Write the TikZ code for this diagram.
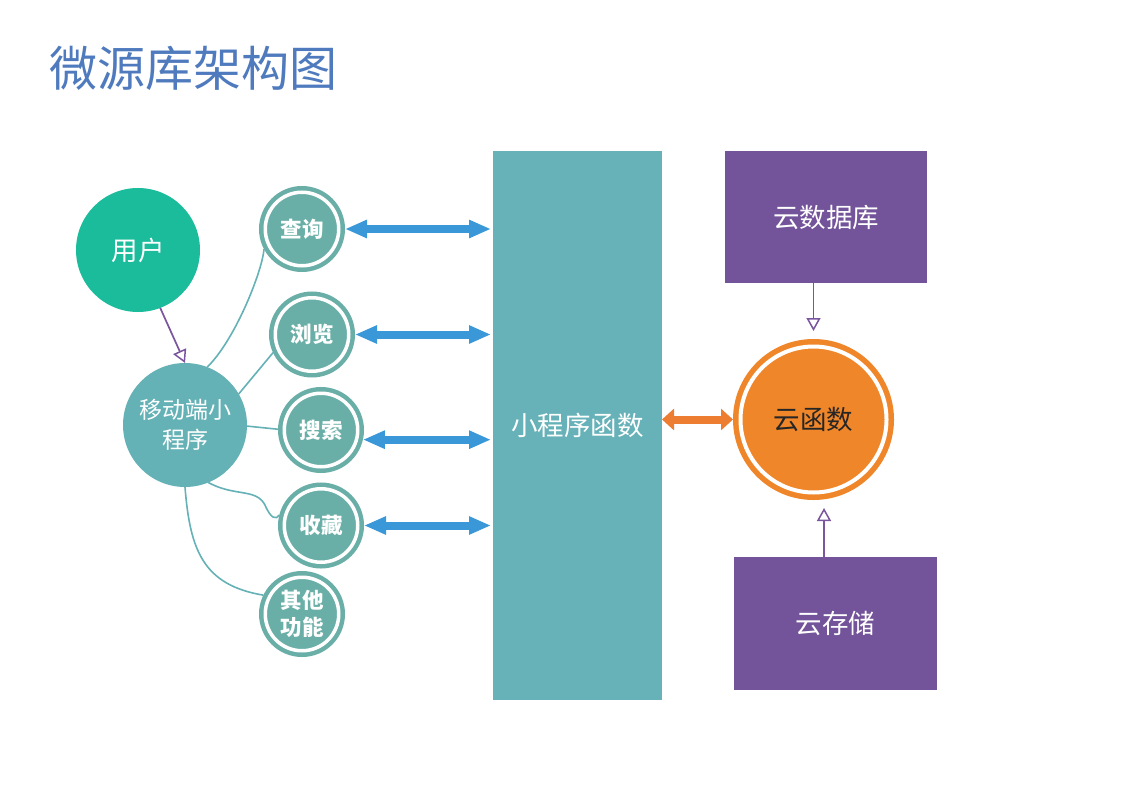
\documentclass[tikz,border=0pt]{standalone}
\usepackage{fontspec}
\newfontfamily\cjk{Noto Sans CJK SC}
\usetikzlibrary{arrows.meta}
\definecolor{titleblue}{HTML}{4F7BBE}
\definecolor{usergreen}{HTML}{1ABC9C}
\definecolor{mobteal}{HTML}{65B2B6}
\definecolor{ringteal}{HTML}{6AAFA7}
\definecolor{rectteal}{HTML}{66B2B8}
\definecolor{arrowblue}{HTML}{3A98D9}
\definecolor{cforange}{HTML}{F0862A}
\definecolor{arroworange}{HTML}{ED7D31}
\definecolor{boxpurple}{HTML}{735399}
\definecolor{linepurple}{HTML}{7A569E}
\begin{document}
\begin{tikzpicture}[x=1pt,y=-1pt,
  every node/.style={inner sep=0pt, outer sep=0pt},
  bigtxt/.style={font=\cjk\fontsize{26.5}{32}\selectfont},
  disc/.style={circle, minimum size=124pt, text=white, align=center},
  ring/.style={circle, fill=ringteal, draw=ringteal, double=white, double distance=3.5pt,
    line width=4.5pt, minimum size=73.5pt, outer sep=6.25pt, text=white, align=center,
    font=\cjk\bfseries\fontsize{21.5}{27.5}\selectfont},
  box/.style={rectangle, text=white, align=center, bigtxt},
  bluearrow/.style={draw=arrowblue, line width=8pt,
    {Triangle[length=22pt,width=17pt]}-{Triangle[length=22pt,width=17pt]}},
  orangearrow/.style={draw=arroworange, line width=8pt,
    {Triangle[length=12pt,width=21pt]}-{Triangle[length=12pt,width=21pt]}},
  openarrow/.style={draw=linepurple, line width=1.7pt,
    -{Triangle[open,length=13pt,width=14pt,line width=1.5pt]}},
  branch/.style={draw=mobteal, line width=1.6pt}
]
\fill[white] (0,0) rectangle (1123,794);

% title
\node[anchor=west, text=titleblue, font=\cjk\fontsize{48}{54}\selectfont] (title) at (49,68) {微源库架构图};

% left side
\node[disc, fill=usergreen, bigtxt] (user) at (138,250) {用户};
\node[disc, fill=mobteal, font=\cjk\fontsize{23}{30}\selectfont] (mob) at (185,425) {移动端小\\程序};

\node[ring] (q) at (302,229) {查询};
\node[ring] (b) at (312,334.5) {浏览};
\node[ring] (s) at (321,430) {搜索};
\node[ring] (c) at (321,525.5) {收藏};
\node[ring] (o) at (302,614) {其他\\功能};

% central function block
\node[box, fill=rectteal, minimum width=169pt, minimum height=549pt] (prog) at (577.5,425.5) {小程序函数};

% right side
\node[box, fill=boxpurple, minimum width=202pt, minimum height=132pt] (db) at (826,217) {云数据库};
\node[box, fill=boxpurple, minimum width=203pt, minimum height=133pt] (st) at (835.5,623.5) {云存储};
\node[circle, fill=cforange, draw=cforange, double=white, double distance=4pt, line width=5.5pt,
  minimum size=146pt, outer sep=7.5pt, text=black!85, bigtxt] (cf) at (813.5,419.5) {云函数};

% user -> mobile
\draw[openarrow] (user.-69) -- (mob.north);

% branches
\draw[branch] (mob.69) .. controls (235,340) and (262,272) .. (q.208);
\draw[branch] (mob.30) -- (b.205);
\draw[branch] (mob.-1) -- (s.179);
\draw[branch] (mob.-68) .. controls (235,497) and (256,488) .. (265,505)
  .. controls (271,519) and (276,520) .. (c.166);
\draw[branch] (mob.south) .. controls (190,550) and (203,585) .. (o.154);

% blue double arrows
\draw[bluearrow] (q.east) -- ([xshift=-2pt]q.east -| prog.west);
\draw[bluearrow] (b.east) -- ([xshift=-2pt]b.east -| prog.west);
\draw[bluearrow] (s.-13) -- ([xshift=-2pt]s.-13 -| prog.west);
\draw[bluearrow] (c.east) -- ([xshift=-2pt]c.east -| prog.west);

% orange double arrow
\draw[orangearrow] (prog.east |- cf.west) -- (cf.west);

% purple arrows
\draw[openarrow] (db.south -| cf.center) -- ([yshift=8pt]cf.north);
\draw[openarrow] ([xshift=10.5pt]st.north -| cf.center) -- ([xshift=10.5pt,yshift=-8pt]cf.south);
\end{tikzpicture}
\end{document}
